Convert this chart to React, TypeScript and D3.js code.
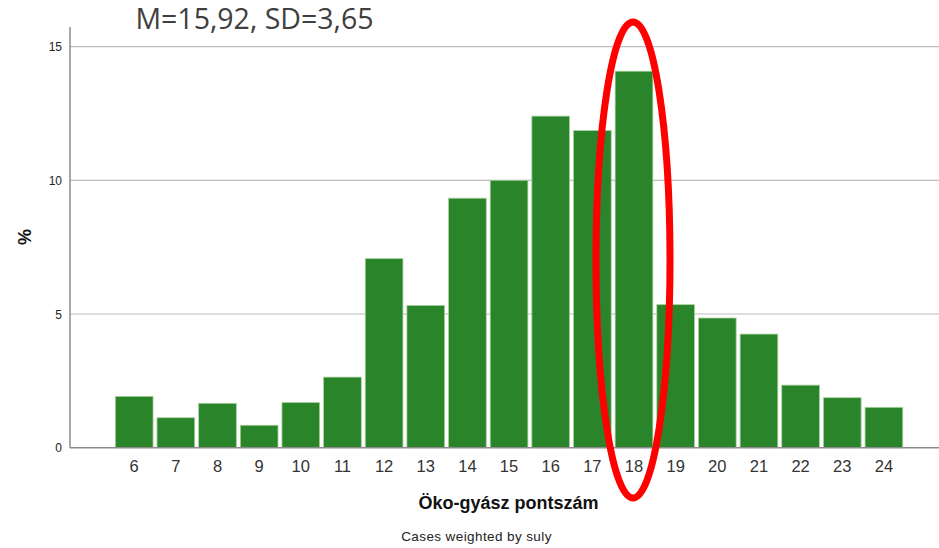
import * as d3 from "d3";

const scores = [6, 7, 8, 9, 10, 11, 12, 13, 14, 15, 16, 17, 18, 19, 20, 21, 22, 23, 24];
const percents = [1.92, 1.12, 1.66, 0.84, 1.69, 2.64, 7.07, 5.32, 9.33, 10.0, 12.4, 11.86, 14.08, 5.35, 4.85, 4.25, 2.34, 1.87, 1.51];
const yTicks = [0, 5, 10, 15];

const width = 939;
const height = 548;
const left = 70;
const baseY = 447.7;
const barW = 37.7;

export default function App() {
  const x = d3.scaleLinear().domain([6, 24]).range([134.2, 883.9]);
  const y = d3.scaleLinear().domain([0, 15]).range([baseY, 46.6]);

  return (
    <svg
      width={width}
      height={height}
      style={{ position: "absolute", left: 0, top: 0, background: "#fff" }}
      fontFamily="'Liberation Sans', Arial, sans-serif"
    >
      <text x={254.5} y={28.5} textAnchor="middle" fontFamily="'Open Sans', sans-serif" fontSize={28.5} fill="#404040">
        M=15,92, SD=3,65
      </text>

      {yTicks.map((t) => (
        <g key={t}>
          {t > 0 && <line x1={left} x2={width} y1={y(t)} y2={y(t)} stroke="#bdbdbd" strokeWidth={1.2} />}
          <text x={62} y={y(t) + 4.5} textAnchor="end" fontSize={12} fill="#222">
            {t}
          </text>
        </g>
      ))}

      {scores.map((s, i) => (
        <rect
          key={s}
          x={x(s) - barW / 2}
          y={y(percents[i])}
          width={barW}
          height={baseY - y(percents[i])}
          fill="#2a852a"
          stroke="#a9d0a0"
          strokeWidth={0.8}
        />
      ))}

      <line x1={left} x2={left} y1={27} y2={baseY} stroke="#8c8c8c" strokeWidth={1.5} />
      <line x1={left} x2={width} y1={baseY} y2={baseY} stroke="#8c8c8c" strokeWidth={1.5} />

      {scores.map((s) => (
        <text key={s} x={x(s)} y={471.5} textAnchor="middle" fontSize={16.5} fill="#333">
          {s}
        </text>
      ))}

      <text
        transform={`translate(31, 237) rotate(-90)`}
        textAnchor="middle"
        fontSize={18}
        fontWeight="bold"
        fill="#111"
      >
        %
      </text>

      <text x={508.5} y={509} textAnchor="middle" fontSize={18} fontWeight="bold" fill="#111">
        Öko-gyász pontszám
      </text>
      <text x={476.5} y={541} textAnchor="middle" fontSize={13.5} letterSpacing={0.4} fill="#222">
        Cases weighted by suly
      </text>

      <ellipse cx={633} cy={260} rx={37} ry={238} fill="none" stroke="#ff0000" strokeWidth={7} />
    </svg>
  );
}
